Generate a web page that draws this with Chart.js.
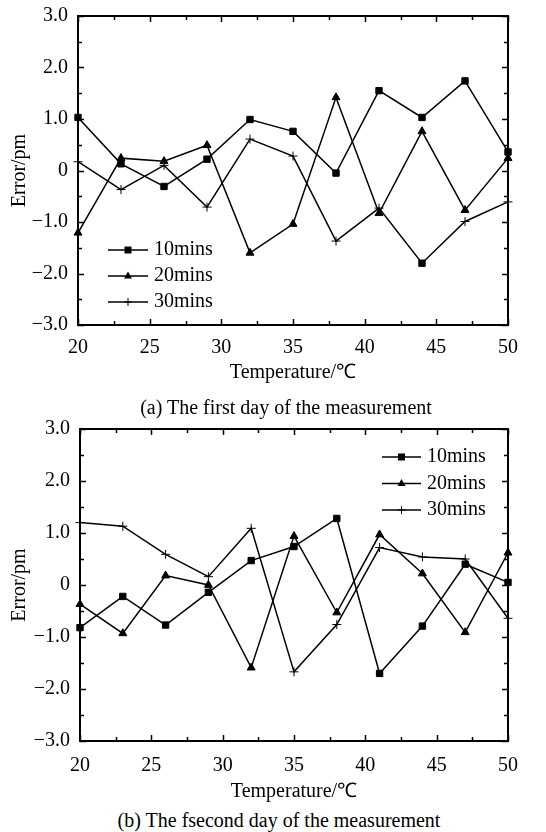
<!DOCTYPE html>
<html>
<head>
<meta charset="utf-8">
<script src="https://cdn.jsdelivr.net/npm/chart.js@4.4.0/dist/chart.umd.min.js"></script>
<style>
  body { margin: 0; background: #fff; }
  #page { position: relative; width: 546px; height: 832px; overflow: hidden; }
  canvas { position: absolute; left: 0; }
  .caption {
    position: absolute; font-family: "Liberation Serif", "Times New Roman", serif;
    font-size: 20px; line-height: 24px; white-space: nowrap; transform: translateX(-50%);
  }
</style>
</head>
<body>
<div id="page">
  <canvas id="chartA" width="546" height="390" style="top:0px"></canvas>
  <canvas id="chartB" width="546" height="392" style="top:413px"></canvas>
  <div class="caption" style="left:286px; top:395px">(a) The first day of the measurement</div>
  <div class="caption" style="left:279px; top:808px">(b) The fsecond day of the measurement</div>
</div>
<script>
const temps = [20, 23, 26, 29, 32, 35, 38, 41, 44, 47, 50];
const seriesNames = ['10mins', '20mins', '30mins'];

// first day
const day1_10 = [1.03, 0.13, -0.31, 0.22, 0.99, 0.76, -0.05, 1.55, 1.03, 1.74, 0.36];
const day1_20 = [-1.21, 0.24, 0.18, 0.49, -1.60, -1.04, 1.42, -0.83, 0.76, -0.77, 0.24];
const day1_30 = [0.17, -0.37, 0.10, -0.71, 0.61, 0.28, -1.37, -0.73, -1.80, -0.99, -0.61];

// second day
const day2_10 = [-0.82, -0.22, -0.77, -0.14, 0.47, 0.74, 1.28, -1.70, -0.79, 0.40, 0.05];
const day2_20 = [-0.37, -0.93, 0.18, 0.00, -1.59, 0.94, -0.53, 0.97, 0.22, -0.91, 0.62];
const day2_30 = [1.20, 1.13, 0.59, 0.16, 1.09, -1.67, -0.76, 0.72, 0.54, 0.50, -0.64];

const xTickLabels = ['20', '25', '30', '35', '40', '45', '50'];
const yTickLabels = ['−3.0', '−2.0', '−1.0', '0', '1.0', '2.0', '3.0'];

Chart.defaults.font.family = '"Liberation Serif", "Times New Roman", serif';
Chart.defaults.font.size = 20;
Chart.defaults.color = '#000';

function isWhole(v) { return Math.abs(v - Math.round(v)) < 1e-6; }

// inward ticks on all four sides + frame
const framePlugin = {
    id: 'frame',
    afterDatasetsDraw(chart) {
        const { ctx, chartArea: a } = chart;
        const xs = chart.scales.x, ys = chart.scales.y;
        ctx.save();
        ctx.strokeStyle = '#000';
        ctx.lineWidth = 1.5;
        ctx.beginPath();
        xs.ticks.forEach(t => {
            const px = Math.round(xs.getPixelForValue(t.value)) + 0.5;
            const len = (t.value % 5 === 0) ? 6 : 4;
            ctx.moveTo(px, a.bottom); ctx.lineTo(px, a.bottom - len);
            ctx.moveTo(px, a.top); ctx.lineTo(px, a.top + len);
        });
        ys.ticks.forEach(t => {
            const py = Math.round(ys.getPixelForValue(t.value)) + 0.5;
            const len = isWhole(t.value) ? 6 : 4;
            ctx.moveTo(a.left, py); ctx.lineTo(a.left + len, py);
            ctx.moveTo(a.right, py); ctx.lineTo(a.right - len, py);
        });
        ctx.stroke();
        ctx.lineWidth = 2;
        ctx.strokeRect(a.left, a.top, a.right - a.left, a.bottom - a.top);
        ctx.restore();
    }
};

function drawMarker(ctx, style, x, y) {
    ctx.beginPath();
    if (style === 'rect') {
        ctx.rect(x - 3.5, y - 3.5, 7, 7);
        ctx.fill();
    } else if (style === 'triangle') {
        ctx.moveTo(x, y - 4.5);
        ctx.lineTo(x + 4, y + 2.5);
        ctx.lineTo(x - 4, y + 2.5);
        ctx.closePath();
        ctx.fill();
    } else {
        ctx.moveTo(x - 4, y); ctx.lineTo(x + 4, y);
        ctx.moveTo(x, y - 4); ctx.lineTo(x, y + 4);
        ctx.stroke();
    }
}

const innerLegend = {
    id: 'innerLegend',
    afterDraw(chart, args, opts) {
        const { ctx, chartArea: a } = chart;
        ctx.save();
        ctx.fillStyle = '#000';
        ctx.strokeStyle = '#000';
        ctx.font = '20px "Liberation Serif", "Times New Roman", serif';
        ctx.textBaseline = 'middle';
        chart.data.datasets.forEach((ds, i) => {
            const y = a.top + opts.y + i * opts.gap;
            const x0 = a.left + opts.x;
            ctx.lineWidth = 1.5;
            ctx.beginPath();
            ctx.moveTo(x0, y); ctx.lineTo(x0 + opts.len, y);
            ctx.stroke();
            ctx.lineWidth = 1;
            drawMarker(ctx, ds.legendStyle, x0 + opts.len / 2, y);
            ctx.fillText(ds.label, x0 + opts.len + 6, y);
        });
        ctx.restore();
    }
};

function makeDataset(label, data, style) {
    return {
        label: label,
        data: temps.map((t, i) => ({ x: t, y: data[i] })),
        borderColor: '#000',
        backgroundColor: '#000',
        borderWidth: 1.5,
        pointStyle: style,
        legendStyle: Array.isArray(style) ? style[0] : style,
        pointRadius: ctx => {
            const s = Array.isArray(style) ? style[ctx.dataIndex] : style;
            return s === 'rect' ? 4.5 : (s === 'triangle' ? 4.6 : 4.5);
        },
        pointBorderWidth: 1,
        tension: 0,
        clip: false
    };
}

function makeChart(id, datasets, leftWidth, xAxisHeight, labelPad, titlePad, legendPos) {
    return new Chart(document.getElementById(id), {
        type: 'line',
        data: { datasets: datasets },
        options: {
            responsive: false,
            maintainAspectRatio: false,
            animation: false,
            layout: { padding: { top: 16, right: 38, left: 0, bottom: 0 } },
            plugins: {
                legend: { display: false },
                tooltip: { enabled: false },
                innerLegend: legendPos
            },
            scales: {
                x: {
                    type: 'linear',
                    min: 20, max: 50,
                    grid: { display: false, drawTicks: false },
                    border: { display: false },
                    ticks: {
                        stepSize: 2.5, autoSkip: false, maxRotation: 0, padding: labelPad,
                        callback: v => xTickLabels.includes(String(v)) ? String(v) : ''
                    },
                    title: { display: true, text: 'Temperature/℃', padding: { top: 0, bottom: titlePad } },
                    afterFit: s => { s.height = xAxisHeight; s.paddingLeft = 0; s.paddingRight = 0; }
                },
                y: {
                    min: -3, max: 3,
                    grid: { display: false, drawTicks: false },
                    border: { display: false },
                    ticks: {
                        stepSize: 0.5, autoSkip: false, padding: 10,
                        callback: v => isWhole(v) ? yTickLabels[Math.round(v) + 3] : ''
                    },
                    title: { display: true, text: 'Error/pm', padding: { top: 8, bottom: 0 } },
                    afterFit: s => { s.width = leftWidth; s.paddingTop = 0; s.paddingBottom = 0; }
                }
            }
        },
        plugins: [framePlugin, innerLegend]
    });
}

// the 44 ℃ point of the 30 min series is drawn with a square in the original
const day1Cross = temps.map((t, i) => i === 8 ? 'rect' : 'cross');

makeChart('chartA', [
    makeDataset(seriesNames[0], day1_10, 'rect'),
    makeDataset(seriesNames[1], day1_20, 'triangle'),
    makeDataset(seriesNames[2], day1_30, day1Cross)
], 78, 65, 11, 5, { x: 30, y: 234, gap: 26, len: 40 });

makeChart('chartB', [
    makeDataset(seriesNames[0], day2_10, 'rect'),
    makeDataset(seriesNames[1], day2_20, 'triangle'),
    makeDataset(seriesNames[2], day2_30, 'cross')
], 80, 64, 13, 1, { x: 302, y: 28, gap: 26.5, len: 39 });
</script>
</body>
</html>
